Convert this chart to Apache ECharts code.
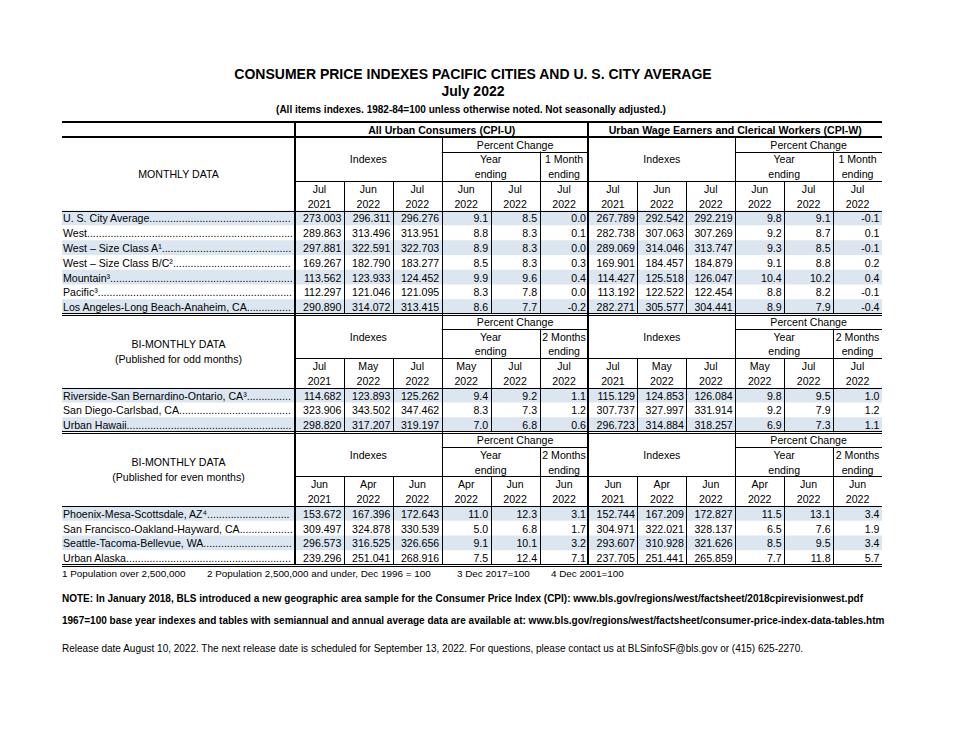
<!DOCTYPE html>
<html><head><meta charset="utf-8">
<script src="https://cdn.jsdelivr.net/npm/echarts@6/dist/echarts.min.js"></script>
<style>html,body{margin:0;padding:0;background:#fff}#c{width:956px;height:738px}</style>
</head><body><div id="c"></div>
<script>
// ---------------- data ----------------
const titleText = 'CONSUMER PRICE INDEXES PACIFIC CITIES AND U. S. CITY AVERAGE';
const periodText = 'July 2022';
const subtitleText = '(All items indexes. 1982-84=100 unless otherwise noted. Not seasonally adjusted.)';
const groupNames = ['All Urban Consumers (CPI-U)', 'Urban Wage Earners and Clerical Workers (CPI-W)'];

const monthlyAreas = ['U. S. City Average', 'West', 'West – Size Class A¹', 'West – Size Class B/C²', 'Mountain³', 'Pacific³', 'Los Angeles-Long Beach-Anaheim, CA'];
const monthlyPeriods = ['Jul 2021', 'Jun 2022', 'Jul 2022', 'Jun 2022', 'Jul 2022', 'Jul 2022'];
const monthlyCpiU = [
  [273.003, 296.311, 296.276, 9.1, 8.5, 0.0],
  [289.863, 313.496, 313.951, 8.8, 8.3, 0.1],
  [297.881, 322.591, 322.703, 8.9, 8.3, 0.0],
  [169.267, 182.790, 183.277, 8.5, 8.3, 0.3],
  [113.562, 123.933, 124.452, 9.9, 9.6, 0.4],
  [112.297, 121.046, 121.095, 8.3, 7.8, 0.0],
  [290.890, 314.072, 313.415, 8.6, 7.7, -0.2]
];
const monthlyCpiW = [
  [267.789, 292.542, 292.219, 9.8, 9.1, -0.1],
  [282.738, 307.063, 307.269, 9.2, 8.7, 0.1],
  [289.069, 314.046, 313.747, 9.3, 8.5, -0.1],
  [169.901, 184.457, 184.879, 9.1, 8.8, 0.2],
  [114.427, 125.518, 126.047, 10.4, 10.2, 0.4],
  [113.192, 122.522, 122.454, 8.8, 8.2, -0.1],
  [282.271, 305.577, 304.441, 8.9, 7.9, -0.4]
];

const oddAreas = ['Riverside-San Bernardino-Ontario, CA³', 'San Diego-Carlsbad, CA', 'Urban Hawaii'];
const oddPeriods = ['Jul 2021', 'May 2022', 'Jul 2022', 'May 2022', 'Jul 2022', 'Jul 2022'];
const oddCpiU = [
  [114.682, 123.893, 125.262, 9.4, 9.2, 1.1],
  [323.906, 343.502, 347.462, 8.3, 7.3, 1.2],
  [298.820, 317.207, 319.197, 7.0, 6.8, 0.6]
];
const oddCpiW = [
  [115.129, 124.853, 126.084, 9.8, 9.5, 1.0],
  [307.737, 327.997, 331.914, 9.2, 7.9, 1.2],
  [296.723, 314.884, 318.257, 6.9, 7.3, 1.1]
];

const evenAreas = ['Phoenix-Mesa-Scottsdale, AZ⁴', 'San Francisco-Oakland-Hayward, CA', 'Seattle-Tacoma-Bellevue, WA', 'Urban Alaska'];
const evenPeriods = ['Jun 2021', 'Apr 2022', 'Jun 2022', 'Apr 2022', 'Jun 2022', 'Jun 2022'];
const evenCpiU = [
  [153.672, 167.396, 172.643, 11.0, 12.3, 3.1],
  [309.497, 324.878, 330.539, 5.0, 6.8, 1.7],
  [296.573, 316.525, 326.656, 9.1, 10.1, 3.2],
  [239.296, 251.041, 268.916, 7.5, 12.4, 7.1]
];
const evenCpiW = [
  [152.744, 167.209, 172.827, 11.5, 13.1, 3.4],
  [304.971, 322.021, 328.137, 6.5, 7.6, 1.9],
  [293.607, 310.928, 321.626, 8.5, 9.5, 3.4],
  [237.705, 251.441, 265.859, 7.7, 11.8, 5.7]
];

const footnotes = ['1 Population over 2,500,000', '2 Population 2,500,000 and under, Dec 1996 = 100', '3 Dec 2017=100', '4 Dec 2001=100'];
const noteLines = [
  'NOTE: In January 2018, BLS introduced a new geographic area sample for the Consumer Price Index (CPI): www.bls.gov/regions/west/factsheet/2018cpirevisionwest.pdf',
  '1967=100 base year indexes and tables with semiannual and annual average data are available at: www.bls.gov/regions/west/factsheet/consumer-price-index-data-tables.htm'
];
const releaseText = 'Release date August 10, 2022. The next release date is scheduled for September 13, 2022. For questions, please contact us at BLSinfoSF@bls.gov or (415) 625-2270.';

// ---------------- layout (built from the data) ----------------
const FONT = '"Liberation Sans", Arial, Helvetica, sans-serif';
const CELL_FONT = '10.6px ' + FONT;
const SHADE = '#dce6f1';
const LW = 4.763; // label column width, in column units

const sections = [
  { title: ['MONTHLY DATA'], change: '1 Month', periods: monthlyPeriods, areas: monthlyAreas, u: monthlyCpiU, w: monthlyCpiW },
  { title: ['BI-MONTHLY DATA', '(Published for odd months)'], change: '2 Months', periods: oddPeriods, areas: oddAreas, u: oddCpiU, w: oddCpiW },
  { title: ['BI-MONTHLY DATA', '(Published for even months)'], change: '2 Months', periods: evenPeriods, areas: evenAreas, u: evenCpiU, w: evenCpiW }
];

const cells = [];
const bands = [];
const rules = [];
cells.push({ x0: 0, x1: 6, y0: 0, y1: 1, text: groupNames[0], align: 'center', bold: true });
cells.push({ x0: 6, x1: 12, y0: 0, y1: 1, text: groupNames[1], align: 'center', bold: true });
rules.push({ x0: -LW, x1: 12, y0: 0, y1: 0, kind: 'thick' });
rules.push({ x0: -LW, x1: 12, y0: 1, y1: 1, kind: 'thick' });
let row = 1;
sections.forEach(s => {
  const h0 = row;
  if (s.title.length === 1) {
    cells.push({ x0: -LW, x1: 0, y0: h0, y1: h0 + 5, text: s.title[0], align: 'center' });
  } else {
    s.title.forEach((t, k) => cells.push({ x0: -LW, x1: 0, y0: h0 + 1.5 + k, y1: h0 + 2.5 + k, text: t, align: 'center' }));
  }
  [0, 6].forEach(off => {
    cells.push({ x0: off, x1: off + 3, y0: h0, y1: h0 + 3, text: 'Indexes', align: 'center' });
    cells.push({ x0: off + 3, x1: off + 6, y0: h0, y1: h0 + 1, text: 'Percent Change', align: 'center' });
    cells.push({ x0: off + 3, x1: off + 5, y0: h0 + 1, y1: h0 + 2, text: 'Year', align: 'center' });
    cells.push({ x0: off + 3, x1: off + 5, y0: h0 + 2, y1: h0 + 3, text: 'ending', align: 'center' });
    cells.push({ x0: off + 5, x1: off + 6, y0: h0 + 1, y1: h0 + 2, text: s.change, align: 'center' });
    cells.push({ x0: off + 5, x1: off + 6, y0: h0 + 2, y1: h0 + 3, text: 'ending', align: 'center' });
    s.periods.forEach((p, i) => {
      const parts = p.split(' ');
      cells.push({ x0: off + i, x1: off + i + 1, y0: h0 + 3, y1: h0 + 4, text: parts[0], align: 'center' });
      cells.push({ x0: off + i, x1: off + i + 1, y0: h0 + 4, y1: h0 + 5, text: parts[1], align: 'center' });
    });
    rules.push({ x0: off + 3, x1: off + 6, y0: h0 + 1, y1: h0 + 1, kind: 'thin' });
  });
  rules.push({ x0: 0, x1: 12, y0: h0 + 3, y1: h0 + 3, kind: 'thin' });
  rules.push({ x0: -LW, x1: 12, y0: h0 + 5, y1: h0 + 5, kind: 'thin' });
  const d0 = h0 + 5;
  s.areas.forEach((a, i) => {
    const y0 = d0 + i, y1 = y0 + 1;
    if (i % 2 === 0) bands.push({ x0: -LW, x1: 12, y0, y1 });
    cells.push({ x0: -LW, x1: 0, y0, y1, text: a, align: 'left', leader: true });
    [[s.u[i], 0], [s.w[i], 6]].forEach(([vals, off]) => {
      vals.forEach((v, j) => cells.push({ x0: off + j, x1: off + j + 1, y0, y1, text: v.toFixed(j < 3 ? 3 : 1), align: 'right' }));
    });
  });
  const end = d0 + s.areas.length;
  rules.push({ x0: -LW, x1: 12, y0: end, y1: end, kind: 'double' });
  [5, 11].forEach(x => rules.push({ x0: x, x1: x, y0: h0 + 1, y1: end, kind: 'thin' }));
  [1, 2, 4, 7, 8, 10].forEach(x => rules.push({ x0: x, x1: x, y0: h0 + 3, y1: end, kind: 'thin' }));
  row = end;
});
[3, 9].forEach(x => rules.push({ x0: x, x1: x, y0: 1, y1: row, kind: 'thin' }));
[0, 6].forEach(x => rules.push({ x0: x, x1: x, y0: 0, y1: row, kind: 'thick' }));

const measureCtx = document.createElement('canvas').getContext('2d');
function textWidth(t, font) { measureCtx.font = font; return measureCtx.measureText(t).width; }

function box(api) {
  const p0 = api.coord([api.value(0), api.value(1)]);
  const p1 = api.coord([api.value(2), api.value(3)]);
  return { l: Math.min(p0[0], p1[0]), r: Math.max(p0[0], p1[0]), t: Math.min(p0[1], p1[1]), b: Math.max(p0[1], p1[1]) };
}

function renderBand(params, api) {
  const b = box(api);
  return { type: 'rect', shape: { x: b.l, y: b.t, width: b.r - b.l, height: b.b - b.t }, style: { fill: SHADE } };
}

function renderCell(params, api) {
  const c = cells[params.dataIndex];
  const b = box(api);
  const font = (c.bold ? 'bold ' : '') + CELL_FONT;
  let x = c.align === 'left' ? b.l + 1 : c.align === 'right' ? b.r - 2.5 : (b.l + b.r) / 2;
  let text = c.text;
  if (c.leader) {
    const avail = (b.r - 2) - x - textWidth(text, font);
    const n = Math.max(0, Math.floor(avail / textWidth('.', font)));
    text = text + '.'.repeat(n);
  }
  return { type: 'text', style: { text, x, y: (b.t + b.b) / 2 + 0.5, textAlign: c.align, align: c.align, textVerticalAlign: 'middle', verticalAlign: 'middle', font, fill: '#000' } };
}

function renderRule(params, api) {
  const r = rules[params.dataIndex];
  const p0 = api.coord([api.value(0), api.value(1)]);
  const p1 = api.coord([api.value(2), api.value(3)]);
  const vertical = Math.abs(p0[0] - p1[0]) < 0.1;
  const snap = (v, w) => w % 2 === 1 ? Math.round(v) + 0.5 : Math.round(v);
  const mk = (off, w) => {
    let x1 = p0[0], y1 = p0[1], x2 = p1[0], y2 = p1[1];
    if (vertical) { x1 = x2 = snap(x1, w) + off; } else { y1 = y2 = snap(y1, w) + off; }
    return { type: 'line', shape: { x1, y1, x2, y2 }, style: { stroke: '#000', lineWidth: w } };
  };
  if (r.kind === 'double') return { type: 'group', children: [mk(-1, 1), mk(1, 1)] };
  if (r.kind === 'thick') return mk(0, 2);
  return mk(0, 1);
}

const chart = echarts.init(document.getElementById('c'), null, { renderer: 'svg' });
const axisOff = { show: false, splitLine: { show: false } };
chart.setOption({
  animation: false,
  backgroundColor: '#fff',
  grid: { left: 62, top: 122, width: 820, height: 443 },
  xAxis: Object.assign({ type: 'value', min: -LW, max: 12 }, axisOff),
  yAxis: Object.assign({ type: 'value', min: 0, max: row, inverse: true }, axisOff),
  series: [
    { type: 'custom', name: 'bands', z: 1, clip: false, renderItem: renderBand, encode: { x: [0, 2], y: [1, 3] }, data: bands.map(c => [c.x0, c.y0, c.x1, c.y1]), silent: true },
    { type: 'custom', name: 'cells', z: 2, clip: false, renderItem: renderCell, encode: { x: [0, 2], y: [1, 3] }, data: cells.map(c => [c.x0, c.y0, c.x1, c.y1]), silent: true },
    { type: 'custom', name: 'rules', z: 3, clip: false, renderItem: renderRule, encode: { x: [0, 2], y: [1, 3] }, data: rules.map(c => [c.x0, c.y0, c.x1, c.y1]), silent: true }
  ],
  graphic: [
    { type: 'text', x: 473, y: 74, style: { text: titleText, font: 'bold 14px ' + FONT, fill: '#000', textAlign: 'center', textVerticalAlign: 'middle' } },
    { type: 'text', x: 473, y: 91, style: { text: periodText, font: 'bold 14px ' + FONT, fill: '#000', textAlign: 'center', textVerticalAlign: 'middle' } },
    { type: 'text', x: 471, y: 109, style: { text: subtitleText, font: 'bold 10px ' + FONT, fill: '#000', textAlign: 'center', textVerticalAlign: 'middle' } },
    ...footnotes.map((t, i) => ({ type: 'text', x: [62, 207, 457, 551][i], y: 573, style: { text: t, font: '9.9px ' + FONT, fill: '#000', textAlign: 'left', textVerticalAlign: 'middle' } })),
    ...noteLines.map((t, i) => ({ type: 'text', x: 62, y: [598, 620][i], style: { text: t, font: 'bold 10px ' + FONT, fill: '#000', textAlign: 'left', textVerticalAlign: 'middle' } })),
    { type: 'text', x: 62, y: 648, style: { text: releaseText, font: '10px ' + FONT, fill: '#000', textAlign: 'left', textVerticalAlign: 'middle' } }
  ]
});
</script>
</body></html>
